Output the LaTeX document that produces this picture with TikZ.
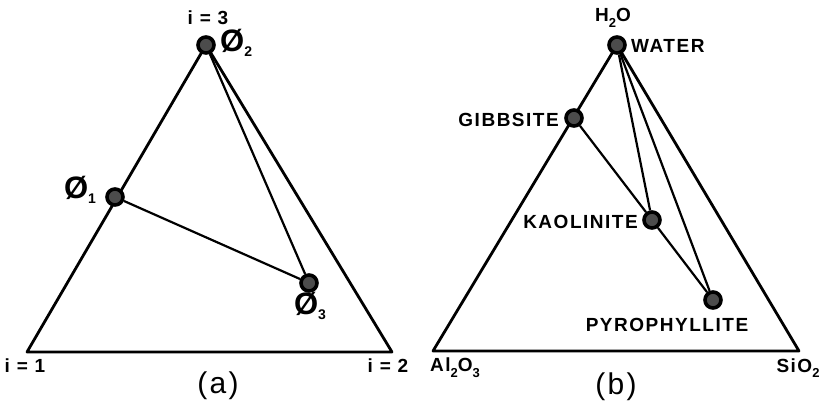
\documentclass[tikz,border=0pt]{standalone}
\usepackage{fontspec}
\setmainfont{Liberation Sans}[LetterSpace=8]
\newcommand{\lowsub}[1]{\raisebox{-0.3em}{\fontsize{13}{13}\selectfont #1}}
\newcommand{\physub}[1]{\raisebox{-0.15em}{\fontsize{14}{14}\selectfont #1}}
\begin{document}
\begin{tikzpicture}[x=1pt,y=-1pt,
  side/.style={line width=2.8pt, line join=round},
  tie/.style={line width=2.2pt},
  phase/.style={circle, draw, line width=3.6pt, minimum size=16pt, inner sep=0pt, fill=black!70},
  lbl/.style={font=\bfseries\fontsize{19}{19}\selectfont, inner sep=1pt},
  philbl/.style={font=\bfseries\fontsize{31}{31}\selectfont, inner sep=0pt},
  captext/.style={font=\fontsize{30}{30}\selectfont, inner sep=1pt}]
\useasboundingbox (0,0) rectangle (822,409);
% (a)
\coordinate (a1) at (27,352);
\coordinate (a2) at (392,352);
\coordinate (a3) at (206,45);
\draw[side] (a1) -- (a2) -- (a3) -- cycle;
\node[phase] (phi1) at (115,197) {};
\node[phase] (phi2) at (206,45) {};
\node[phase] (phi3) at (309,283) {};
\draw[tie] (phi1) -- (phi3);
\draw[tie] (phi2) -- (phi3);
\node[lbl] (la3) at (208,18) {i = 3};
\node[philbl, anchor=west] (lp2) at (220,43) {Ø\physub{2}};
\node[philbl] (lp1) at (80,190) {Ø\physub{1}};
\node[philbl] (lp3) at (310,306) {Ø\physub{3}};
\node[lbl] (la1) at (25,366) {i = 1};
\node[lbl] (la2) at (388,366) {i = 2};
\node[captext] (capa) at (218,386) {(a)};
% (b)
\coordinate (b1) at (433,351);
\coordinate (b2) at (799,351);
\coordinate (b3) at (617,45);
\draw[side] (b1) -- (b2) -- (b3) -- cycle;
\node[phase] (wat) at (617,45) {};
\node[phase] (gib) at (574,118) {};
\node[phase] (kao) at (652,220) {};
\node[phase] (pyr) at (713,300) {};
\draw[tie] (gib) -- (kao);
\draw[tie] (kao) -- (pyr);
\draw[tie] (wat) -- (kao);
\draw[tie] (wat) -- (pyr);
\node[lbl] (lh2o) at (613,18) {H\lowsub{2}O};
\node[lbl, anchor=west] (lwat) at (630,46) {WATER};
\node[lbl, anchor=east] (lgib) at (560,120) {GIBBSITE};
\node[lbl, anchor=east] (lkao) at (639,222) {KAOLINITE};
\node[lbl] (lpyr) at (667,325) {PYROPHYLLITE};
\node[lbl] (lal) at (455,368) {Al\lowsub{2}O\lowsub{3}};
\node[lbl] (lsi) at (798,368) {SiO\lowsub{2}};
\node[captext] (capb) at (616,387) {(b)};
\end{tikzpicture}
\end{document}
